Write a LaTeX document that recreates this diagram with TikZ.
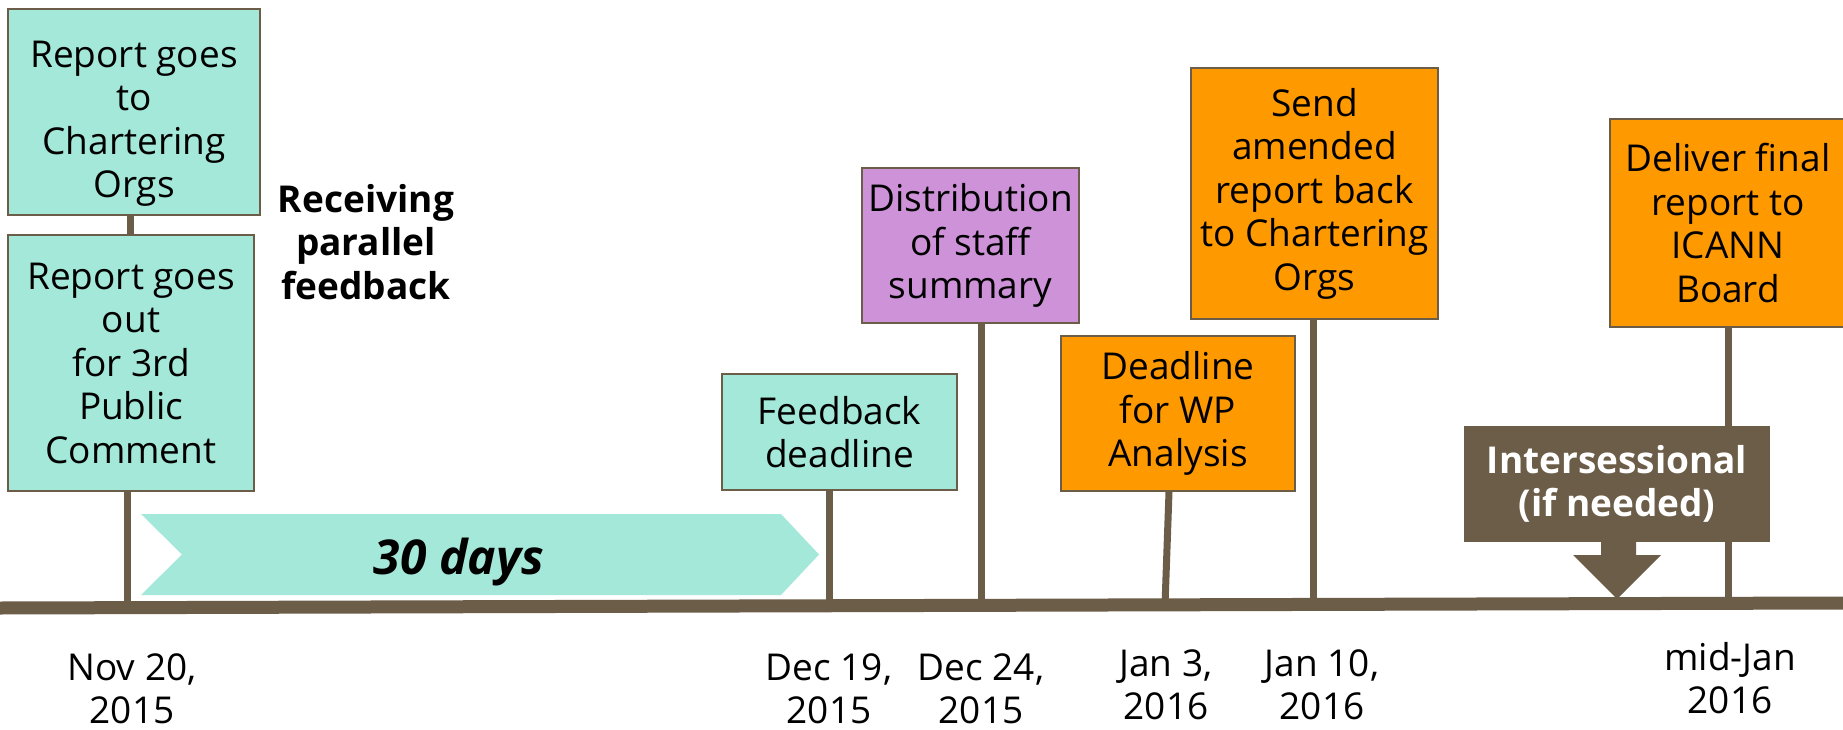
\documentclass[tikz,border=0pt]{standalone}
\usepackage{fontspec}
\setmainfont{Open Sans}
\definecolor{tealbox}{HTML}{A3E8D9}
\definecolor{orangebox}{HTML}{FF9900}
\definecolor{purplebox}{HTML}{CE92D8}
\definecolor{brownline}{HTML}{6B5D47}
\newcommand{\fsz}{\fontsize{37}{43.5}\selectfont}
\newcommand{\bigfsz}{\fontsize{48}{56}\selectfont}
\begin{document}
\begin{tikzpicture}[x=1pt,y=-1pt,
  box/.style={draw=brownline, line width=1.5pt, align=center, inner sep=0pt, font=\fsz, text=black},
  stemline/.style={draw=brownline, line width=7pt},
  datelabel/.style={align=center, font=\fsz, inner sep=0pt},
  boldlabel/.style={align=center, font=\fsz\bfseries, inner sep=0pt}]
\useasboundingbox (0,0) rectangle (1843,730);
\fill[white] (0,0) rectangle (1843,730);

% boxes
\node[box, fill=tealbox, minimum width=252pt, minimum height=206pt] (b1) at (134,112) {\rule{0pt}{50pt}Report goes\\to\\Chartering\\Orgs};
\node[box, fill=tealbox, minimum width=246pt, minimum height=256pt] (b2) at (131,363) {Report goes\\out\\for 3rd\\Public\\Comment};
\node[box, fill=tealbox, minimum width=235pt, minimum height=116pt] (fb) at (839.5,432) {Feedback\\deadline};
\node[box, fill=purplebox, minimum width=217pt, minimum height=155pt] (ds) at (970.5,245.5) {Distribution\\of staff\\summary};
\node[box, fill=orangebox, minimum width=234pt, minimum height=155pt] (wp) at (1178,413.5) {Deadline\\for WP\\Analysis};
\node[box, fill=orangebox, minimum width=247pt, minimum height=251pt] (sa) at (1314.5,193.5) {Send\\amended\\report back\\to Chartering\\Orgs};
\node[box, fill=orangebox, minimum width=236pt, minimum height=208pt] (df) at (1728,223) {Deliver final\\report to\\ICANN\\Board};

% timeline coordinates
\coordinate (tlL) at (0,608);
\coordinate (tlR) at (1843,603);
\coordinate (t2) at (127,607);
\coordinate (t3) at (829,606);
\coordinate (t4) at (981,606);
\coordinate (t5) at (1165,605);
\coordinate (t6) at (1313,605);
\coordinate (t7) at (1728,604);

% stems
\draw[stemline] (b1.south -| 130,0) -- (b2.north -| 130,0);
\draw[stemline] (b2.south -| t2) -- (t2);
\draw[stemline] (fb.south -| t3) -- (t3);
\draw[stemline] (ds.south -| t4) -- (t4);
\draw[stemline] (wp.south -| 1169,0) -- (t5);
\draw[stemline] (sa.south -| t6) -- (t6);
\draw[stemline] (df.south -| t7) -- (t7);

% timeline
\draw[brownline, line width=13pt] (tlL) -- (tlR);

% 30 days chevron
\fill[tealbox] (141,514) -- (781,514) -- (819,554.5) -- (781,595) -- (141,595) -- (182,554.5) -- cycle;
\node[boldlabel, font=\bigfsz\bfseries\itshape] (days) at (459,562) {30 days};

% receiving parallel feedback
\node[boldlabel] (rpf) at (366,242) {Receiving\\parallel\\feedback};

% intersessional
\node[box, draw=brownline, fill=brownline, minimum width=304pt, minimum height=114pt, font=\fsz\bfseries, text=white] (in) at (1617,484) {Intersessional\\(if needed)};
\fill[brownline] (1601,540) -- (1601,555) -- (1573,555) -- (1617,599) -- (1661,555) -- (1636,555) -- (1636,540) -- cycle;

% dates
\node[datelabel] (d1) at (132,689) {Nov 20,\\2015};
\node[datelabel] (d2) at (829,689) {Dec 19,\\2015};
\node[datelabel] (d3) at (981,689) {Dec 24,\\2015};
\node[datelabel] (d4) at (1166,685) {Jan 3,\\2016};
\node[datelabel] (d5) at (1322,685) {Jan 10,\\2016};
\node[datelabel] (d6) at (1730,678) {mid-Jan\\2016};
\end{tikzpicture}
\end{document}
